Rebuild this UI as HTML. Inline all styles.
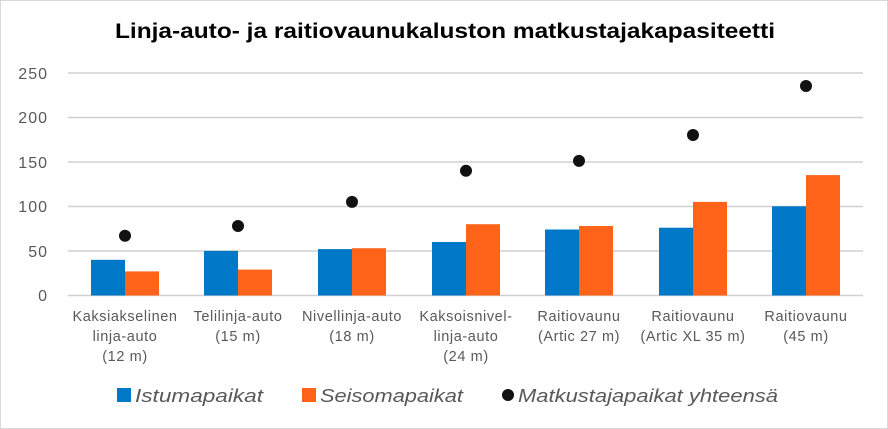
<!DOCTYPE html>
<html><head><style>
body{margin:0;background:#fff}
svg{display:block}
text{font-family:"Liberation Sans",sans-serif;fill:#595959}
</style></head><body>
<svg width="888" height="429" viewBox="0 0 888 429">
<rect x="0.5" y="0.5" width="887" height="428" fill="#fff" stroke="#d9d9d9"/>
<text x="115" y="38" textLength="660" lengthAdjust="spacingAndGlyphs" style="font-size:21px;fill:#000;font-weight:bold">Linja-auto- ja raitiovaunukaluston matkustajakapasiteetti</text>
<g stroke="#d0d0d0" stroke-width="1.5">
<line x1="68" x2="863" y1="73" y2="73"/><line x1="68" x2="863" y1="117.5" y2="117.5"/>
<line x1="68" x2="863" y1="162" y2="162"/><line x1="68" x2="863" y1="206.5" y2="206.5"/>
<line x1="68" x2="863" y1="251" y2="251"/><line x1="68" x2="863" y1="295.5" y2="295.5"/>
</g>
<g font-size="16" text-anchor="end" letter-spacing="1">
<text x="48" y="79">250</text><text x="48" y="123">200</text><text x="48" y="168">150</text>
<text x="48" y="212">100</text><text x="48" y="257">50</text><text x="48" y="301">0</text>
</g>
<g>
<rect x="91" y="259.8" width="34" height="35.7" fill="#0078c8"/><rect x="125" y="271.4" width="34" height="24.1" fill="#ff6319"/><circle cx="125" cy="235.8" r="6" fill="#111"/>
<rect x="204" y="250.9" width="34" height="44.6" fill="#0078c8"/><rect x="238" y="269.6" width="34" height="25.9" fill="#ff6319"/><circle cx="238" cy="226" r="6" fill="#111"/>
<rect x="318" y="249.1" width="34" height="46.4" fill="#0078c8"/><rect x="352" y="248.2" width="34" height="47.3" fill="#ff6319"/><circle cx="352" cy="201.9" r="6" fill="#111"/>
<rect x="432" y="242" width="34" height="53.5" fill="#0078c8"/><rect x="466" y="224.2" width="34" height="71.3" fill="#ff6319"/><circle cx="466" cy="170.7" r="6" fill="#111"/>
<rect x="545" y="229.5" width="34" height="66" fill="#0078c8"/><rect x="579" y="226" width="34" height="69.5" fill="#ff6319"/><circle cx="579" cy="160.9" r="6" fill="#111"/>
<rect x="659" y="227.7" width="34" height="67.8" fill="#0078c8"/><rect x="693" y="201.9" width="34" height="93.6" fill="#ff6319"/><circle cx="693" cy="135" r="6" fill="#111"/>
<rect x="772" y="206.3" width="34" height="89.2" fill="#0078c8"/><rect x="806" y="175.1" width="34" height="120.4" fill="#ff6319"/><circle cx="806" cy="86" r="6" fill="#111"/>
</g>
<g font-size="14.5" text-anchor="middle" letter-spacing="0.6">
<text x="125" y="321">Kaksiakselinen</text><text x="125" y="341">linja-auto</text><text x="125" y="361">(12 m)</text>
<text x="238" y="321">Telilinja-auto</text><text x="238" y="341">(15 m)</text>
<text x="352" y="321">Nivellinja-auto</text><text x="352" y="341">(18 m)</text>
<text x="466" y="321">Kaksoisnivel-</text><text x="466" y="341">linja-auto</text><text x="466" y="361">(24 m)</text>
<text x="579" y="321">Raitiovaunu</text><text x="579" y="341">(Artic 27 m)</text>
<text x="693" y="321">Raitiovaunu</text><text x="693" y="341">(Artic XL 35 m)</text>
<text x="806" y="321">Raitiovaunu</text><text x="806" y="341">(45 m)</text>
</g>
<g font-size="18" font-style="italic">
<rect x="117" y="388" width="14" height="14" fill="#0078c8"/><text x="135" y="402" textLength="128" lengthAdjust="spacingAndGlyphs">Istumapaikat</text>
<rect x="302" y="388" width="14" height="14" fill="#ff6319"/><text x="320" y="402" textLength="143" lengthAdjust="spacingAndGlyphs">Seisomapaikat</text>
<circle cx="508" cy="395" r="6" fill="#111"/><text x="518" y="402" textLength="260" lengthAdjust="spacingAndGlyphs">Matkustajapaikat yhteensä</text>
</g>
</svg>
</body></html>
